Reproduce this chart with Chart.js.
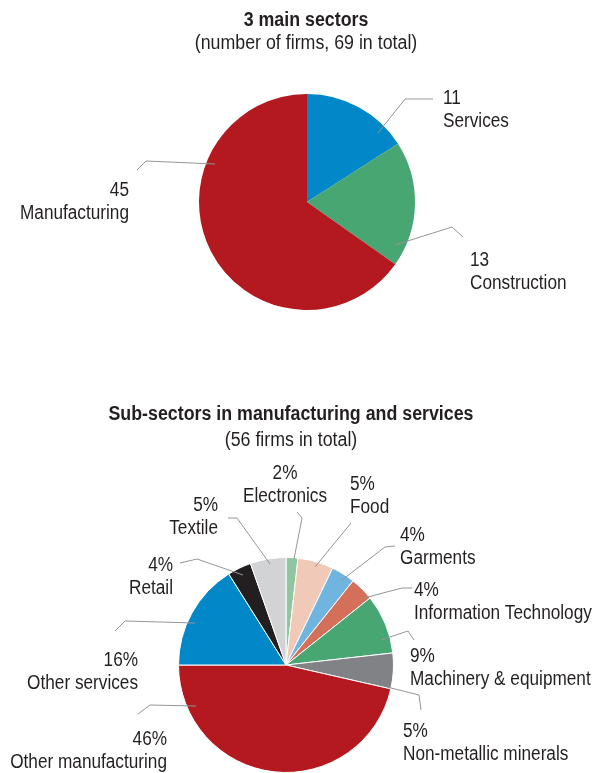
<!DOCTYPE html>
<html>
<head>
<meta charset="utf-8">
<script src="https://cdn.jsdelivr.net/npm/chart.js@4.4.0/dist/chart.umd.min.js"></script>
<style>
  html, body { margin: 0; padding: 0; background: #fff; }
  #wrap { position: relative; width: 597px; height: 773px; overflow: hidden; }
  canvas { position: absolute; left: 0; }
</style>
</head>
<body>
<div id="wrap">
  <canvas id="top" width="597" height="370" style="top:0"></canvas>
  <canvas id="sub" width="597" height="403" style="top:370px"></canvas>
</div>
<script>
// Data: 3 main sectors (number of firms)
const sectorLabels = ['Services', 'Construction', 'Manufacturing'];
const sectorFirms = [11, 13, 45];
const sectorColors = ['#0288c8', '#48a672', '#b3191f'];

// Data: sub-sectors (number of firms, 56 in total)
const subLabels = ['Electronics', 'Food', 'Garments', 'Information Technology',
  'Machinery & equipment', 'Non-metallic minerals', 'Other manufacturing',
  'Other services', 'Retail', 'Textile'];
const subFirms = [1, 3, 2, 2, 5, 3, 26, 9, 2, 3];
const subColors = ['#8fc6a0', '#f0c9b8', '#6fb5e0', '#d4705a', '#48a672',
  '#808285', '#b3191f', '#0288c8', '#231f20', '#d1d3d4'];

const FONT = "'Liberation Sans', Arial, sans-serif";
const SQUEEZE = 0.86;       // condensed look for labels
const TITLE_SQUEEZE = 0.89; // titles a little wider
const TEXT = '#231f20';
const LINE = '#939598';

// Placement of labels and leader lines (canvas coords)
const topLayout = [
  { pts: [[378, 133], [405, 99], [433, 99]], x: 443, y: 98, align: 'left' },
  { pts: [[395, 245], [452, 227], [463, 237]], x: 470, y: 260, align: 'left' },
  { pts: [[215, 164], [146, 161], [137, 170]], x: 129, y: 190, align: 'right' }
];
const subLayout = [
  { pts: [[294, 189], [302, 148], [297, 142]], x: 285, y: 103, align: 'center' },
  { pts: [[315, 197], [351, 153]], x: 350, y: 114, align: 'left' },
  { pts: [[342, 210], [385, 177], [395, 176]], x: 400, y: 165, align: 'left' },
  { pts: [[364, 228], [402, 218], [412, 218]], x: 414, y: 220, align: 'left' },
  { pts: [[381, 270], [408, 261], [414, 270]], x: 410, y: 286, align: 'left' },
  { pts: [[387, 317], [419, 325], [421, 340]], x: 403, y: 361, align: 'left' },
  { pts: [[196, 336], [150, 335], [138, 344]], x: 167, y: 369, align: 'right' },
  { pts: [[195, 253], [125, 251], [115, 261]], x: 138, y: 290, align: 'right' },
  { pts: [[243, 205], [197, 189], [180, 193]], x: 173, y: 195, align: 'right' },
  { pts: [[270, 194], [237, 148], [228, 148]], x: 218, y: 135, align: 'right' }
];

// text squeezed horizontally
function squeezeText(ctx, text, x, y, align, sx) {
  ctx.save();
  ctx.translate(x, y);
  ctx.scale(sx, 1);
  ctx.textAlign = align;
  ctx.fillText(text, 0, 0);
  ctx.restore();
}

// Plugin vẽ tiêu đề, đường dẫn và nhãn
const calloutPlugin = {
  id: 'callouts',
  afterDraw(chart, args, opts) {
    const ctx = chart.ctx;
    const ds = chart.data.datasets[0];
    const total = ds.data.reduce((a, b) => a + b, 0);
    ctx.save();
    ctx.fillStyle = TEXT;
    ctx.textBaseline = 'middle';
    // titles
    ctx.font = 'bold 20px ' + FONT;
    squeezeText(ctx, opts.title, opts.titleX, opts.titleY, 'center', TITLE_SQUEEZE);
    ctx.font = '20px ' + FONT;
    squeezeText(ctx, opts.subtitle, opts.titleX, opts.titleY + opts.subGap, 'center', TITLE_SQUEEZE);
    // leader lines
    ctx.strokeStyle = LINE;
    ctx.lineWidth = 1;
    opts.layout.forEach(l => {
      ctx.beginPath();
      l.pts.forEach((p, i) => i ? ctx.lineTo(p[0], p[1]) : ctx.moveTo(p[0], p[1]));
      ctx.stroke();
    });
    // labels
    ctx.font = '20px ' + FONT;
    opts.layout.forEach((l, i) => {
      const v = ds.data[i];
      const valueText = opts.percent ? Math.round(v / total * 100) + '%' : String(v);
      squeezeText(ctx, valueText, l.x, l.y, l.align, SQUEEZE);
      squeezeText(ctx, chart.data.labels[i], l.x, l.y + 23, l.align, SQUEEZE);
    });
    ctx.restore();
  }
};

function makePie(id, labels, values, colors, padding, border, extra) {
  return new Chart(document.getElementById(id), {
    type: 'pie',
    data: {
      labels: labels,
      datasets: [{
        data: values,
        backgroundColor: colors,
        borderColor: '#fff',
        borderWidth: border
      }]
    },
    options: {
      responsive: false,
      animation: false,
      layout: { padding: padding },
      plugins: {
        legend: { display: false },
        tooltip: { enabled: false },
        callouts: extra
      }
    },
    plugins: [calloutPlugin]
  });
}

makePie('top', sectorLabels, sectorFirms, sectorColors,
  { left: 199, right: 182, top: 94, bottom: 60 }, 0,
  { title: '3 main sectors', subtitle: '(number of firms, 69 in total)',
    titleX: 306, titleY: 20, subGap: 23, layout: topLayout, percent: false });

makePie('sub', subLabels, subFirms, subColors,
  { left: 178, right: 203, top: 187, bottom: 0 }, 1,
  { title: 'Sub-sectors in manufacturing and services', subtitle: '(56 firms in total)',
    titleX: 291, titleY: 44, subGap: 26, layout: subLayout, percent: true });
</script>
</body>
</html>
